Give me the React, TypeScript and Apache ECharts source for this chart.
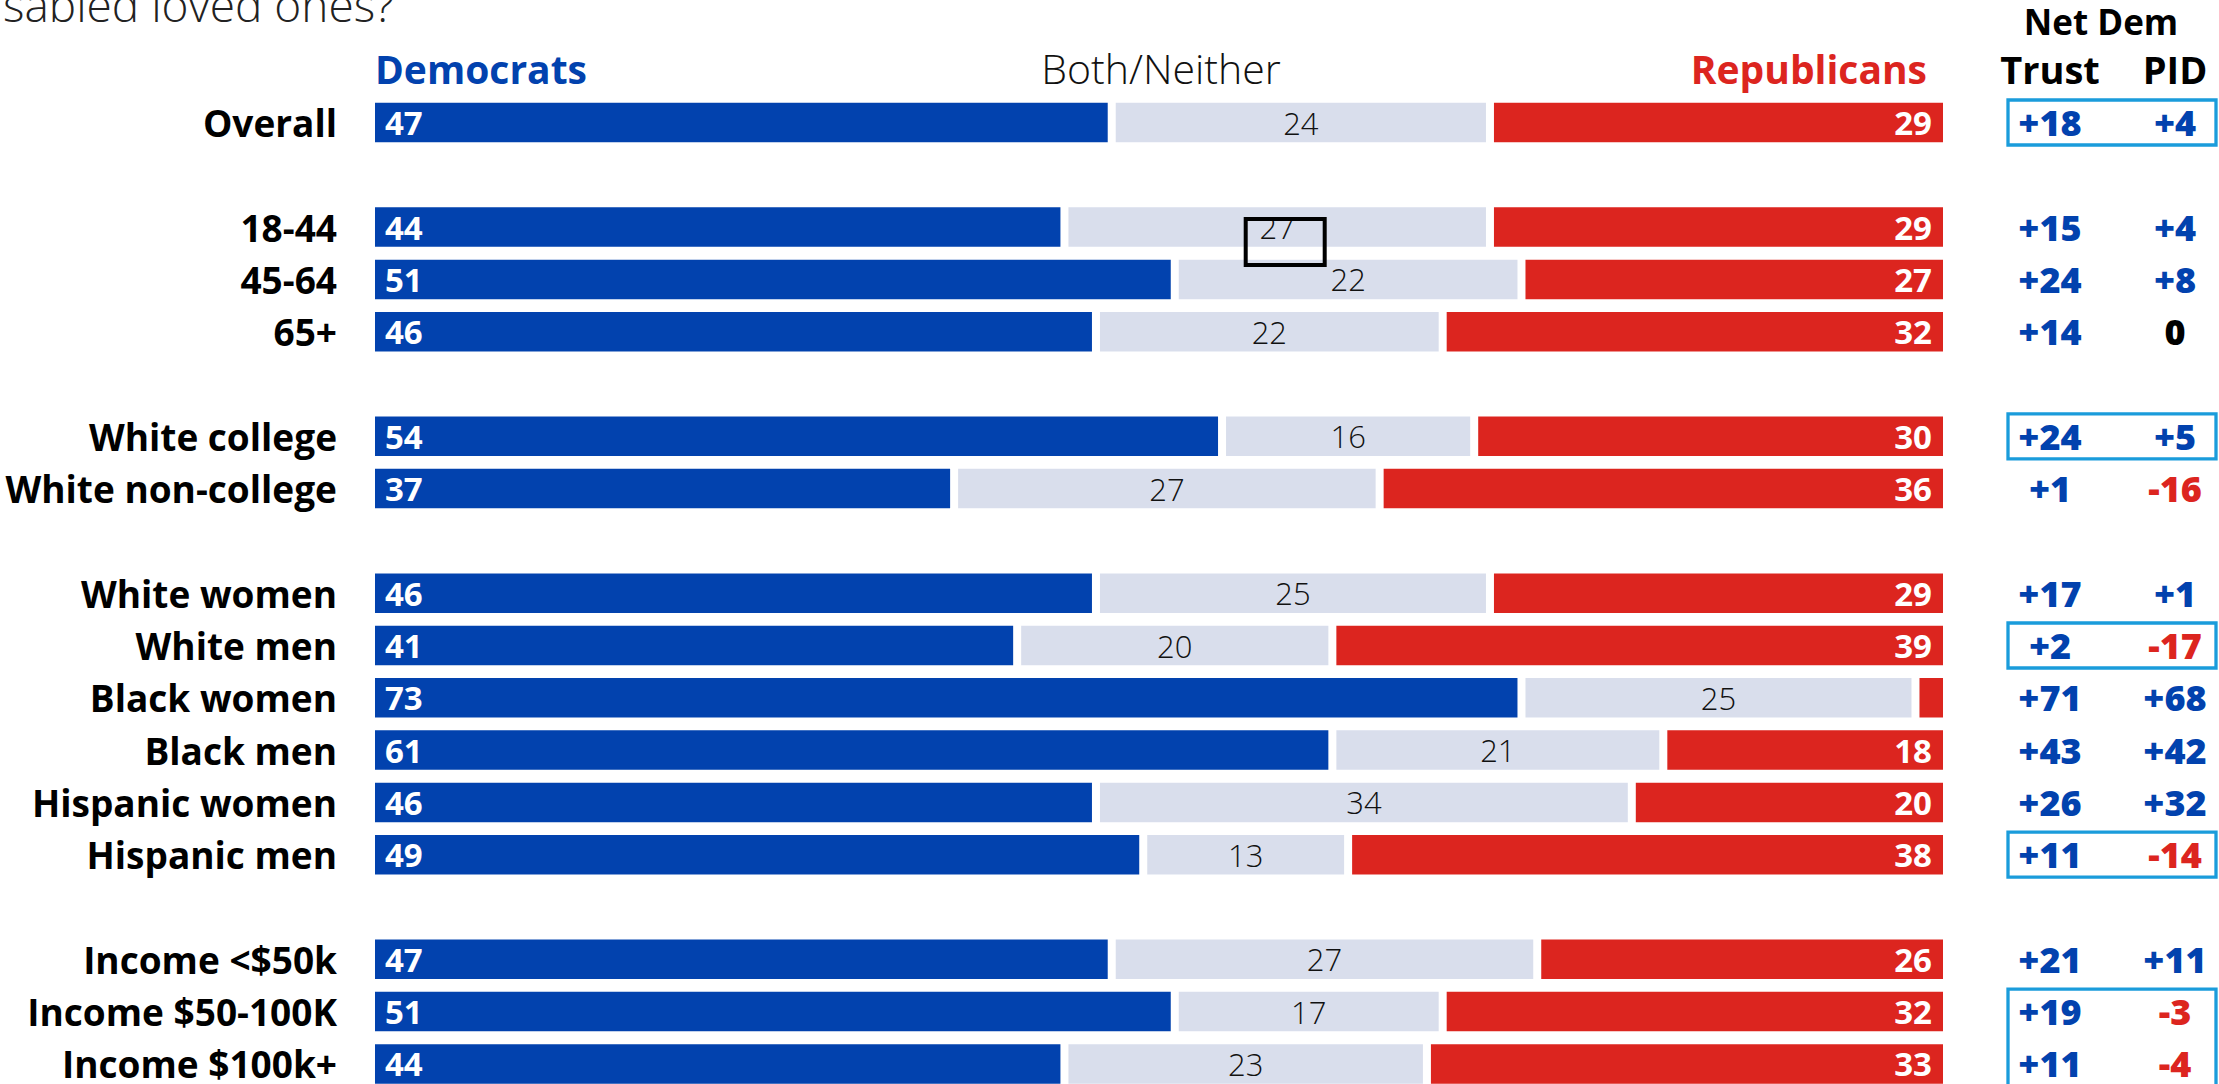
import React, { useEffect, useRef } from "react";
import * as echarts from "echarts";

const categories = [
  "Overall", " ", "18-44", "45-64", "65+", "  ", "White college", "White non-college", "   ",
  "White women", "White men", "Black women", "Black men", "Hispanic women", "Hispanic men", "    ",
  "Income <$50k", "Income $50-100K", "Income $100k+",
];
const democrats = [47, null, 44, 51, 46, null, 54, 37, null, 46, 41, 73, 61, 46, 49, null, 47, 51, 44];
const bothNeither = [24, null, 27, 22, 22, null, 16, 27, null, 25, 20, 25, 21, 34, 13, null, 27, 17, 23];
const republicans = [29, null, 29, 27, 32, null, 30, 36, null, 29, 39, 2, 18, 20, 38, null, 26, 32, 33];
const netTrust = [18, null, 15, 24, 14, null, 24, 1, null, 17, 2, 71, 43, 26, 11, null, 21, 19, 11];
const netPid = [4, null, 4, 8, 0, null, 5, -16, null, 1, -17, 68, 42, 32, -14, null, 11, -3, -4];
const netColumns = ["Trust", "PID"];
const highlightedRanges = [
  ["Overall", "Overall"],
  ["White college", "White college"],
  ["White men", "White men"],
  ["Hispanic men", "Hispanic men"],
  ["Income $50-100K", "Income $100k+"],
];
const annotatedRow = "18-44";

const DEM = "#0242AE";
const REP = "#DC251F";
const BOTH = "#D9DEEC";
const BOX = "#1A9CDB";
const FONT = "'Open Sans', sans-serif";

const fmtNet = (v: number) => (v > 0 ? "+" + v : v < 0 ? "-" + Math.abs(v) : "0");
const colNet = (v: number) => (v > 0 ? DEM : v < 0 ? REP : "#000");

function netSeries(values: (number | null)[], col: number) {
  const data: any[] = [];
  values.forEach((v, i) => {
    if (v == null) return;
    data.push([col, i, v]);
  });
  return {
    type: "custom",
    xAxisIndex: 1,
    yAxisIndex: 1,
    z: 6,
    renderItem: (params: any, api: any) => {
      const c = api.coord([api.value(0), api.value(1)]);
      const v = api.value(2) as number;
      return {
        type: "text",
        x: c[0],
        y: c[1],
        style: {
          text: fmtNet(v),
          fill: colNet(v),
          fontFamily: FONT,
          fontSize: 36,
          fontWeight: 800,
          align: "center",
          verticalAlign: "middle",
        },
      };
    },
    data,
  };
}

export default function App() {
  const ref = useRef<HTMLDivElement>(null);
  useEffect(() => {
    document.body.style.margin = "0";
    const chart = echarts.init(ref.current!, null, { renderer: "svg" });
    const rowStep = 52.3;
    const gridTop = 122.5;
    const gridHeight = rowStep * (categories.length - 1);
    const ai = categories.indexOf(annotatedRow);
    const option: any = {
      animation: false,
      backgroundColor: "#fff",
      textStyle: { fontFamily: FONT },
      grid: [
        { left: 371, top: gridTop, width: 1576, height: gridHeight },
        { left: 2050, top: gridTop, width: 125, height: gridHeight },
      ],
      xAxis: [
        { gridIndex: 0, type: "value", min: 0, max: 100, show: false },
        {
          gridIndex: 1,
          type: "category",
          data: netColumns,
          boundaryGap: false,
          position: "top",
          axisLine: { show: false },
          axisTick: { show: false },
          splitLine: { show: false },
          axisLabel: {
            interval: 0,
            fontFamily: FONT,
            fontSize: 38,
            fontWeight: "bold",
            color: "#000",
            margin: 54,
            verticalAlign: "middle",
          },
        },
      ],
      yAxis: [
        {
          gridIndex: 0,
          type: "category",
          data: categories,
          inverse: true,
          boundaryGap: false,
          axisLine: { show: false },
          axisTick: { show: false },
          splitLine: { show: false },
          axisLabel: {
            interval: 0,
            fontFamily: FONT,
            fontSize: 37,
            fontWeight: "bold",
            color: "#000",
            margin: 34,
          },
        },
        { gridIndex: 1, type: "category", data: categories, inverse: true, boundaryGap: false, show: false },
      ],
      graphic: [
        {
          type: "text",
          x: 3,
          y: 4,
          style: { text: "sabled loved ones?", fontFamily: FONT, fontSize: 46, fontWeight: 300, fill: "#222", align: "left", verticalAlign: "middle" },
        },
        {
          type: "text",
          x: 375,
          y: 68,
          style: { text: "Democrats", fontFamily: FONT, fontSize: 39, fontWeight: "bold", fill: DEM, align: "left", verticalAlign: "middle" },
        },
        {
          type: "text",
          x: 1161,
          y: 68,
          style: { text: "Both/Neither", fontFamily: FONT, fontSize: 41, fontWeight: 300, fill: "#111", align: "center", verticalAlign: "middle" },
        },
        {
          type: "text",
          x: 1927,
          y: 68,
          style: { text: "Republicans", fontFamily: FONT, fontSize: 39, fontWeight: "bold", fill: REP, align: "right", verticalAlign: "middle" },
        },
        {
          type: "text",
          x: 2101,
          y: 21,
          style: { text: "Net Dem", fontFamily: FONT, fontSize: 35, fontWeight: "bold", fill: "#000", align: "center", verticalAlign: "middle" },
        },
      ],
      series: [
        {
          name: "Democrats",
          type: "bar",
          stack: "all",
          barWidth: 47.5,
          itemStyle: { color: DEM, borderColor: "#fff", borderWidth: 4 },
          label: {
            show: true,
            position: "insideLeft",
            distance: 14,
            color: "#fff",
            fontFamily: FONT,
            fontSize: 33,
            fontWeight: "bold",
          },
          data: democrats,
        },
        {
          name: "Both/Neither",
          type: "bar",
          stack: "all",
          barWidth: 47.5,
          itemStyle: { color: BOTH, borderColor: "#fff", borderWidth: 4 },
          label: {
            show: true,
            position: "inside",
            color: "#111",
            fontFamily: FONT,
            fontSize: 31,
            fontWeight: 300,
          },
          data: bothNeither,
        },
        {
          name: "Republicans",
          type: "bar",
          stack: "all",
          barWidth: 47.5,
          itemStyle: { color: REP, borderColor: "#fff", borderWidth: 4 },
          label: {
            show: true,
            position: "insideRight",
            distance: 15,
            color: "#fff",
            fontFamily: FONT,
            fontSize: 33,
            fontWeight: "bold",
            formatter: (p: any) => (p.value >= 5 ? String(p.value) : ""),
          },
          data: republicans,
        },
        netSeries(netTrust, 0),
        netSeries(netPid, 1),
        {
          type: "custom",
          xAxisIndex: 1,
          yAxisIndex: 1,
          z: 5,
          renderItem: (params: any, api: any) => {
            const cs = params.coordSys;
            const y0 = api.coord([0, api.value(1)])[1];
            const y1 = api.coord([0, api.value(2)])[1];
            const half = 22.5;
            return {
              type: "rect",
              shape: { x: cs.x - 42, y: y0 - half, width: cs.width + 83, height: y1 - y0 + 2 * half },
              style: { fill: "none", stroke: BOX, lineWidth: 3.3 },
            };
          },
          data: highlightedRanges.map(([a, b]) => [0, categories.indexOf(a), categories.indexOf(b)]),
        },
        {
          type: "custom",
          xAxisIndex: 0,
          yAxisIndex: 0,
          z: 10,
          renderItem: (params: any, api: any) => {
            const c = api.coord([api.value(0), api.value(1)]);
            return {
              type: "rect",
              shape: { x: c[0] - 39.5 + 8, y: c[1] - 23 + 15, width: 79, height: 46 },
              style: { fill: "none", stroke: "#000", lineWidth: 4 },
            };
          },
          data: [[(democrats[ai] as number) + (bothNeither[ai] as number) / 2, ai]],
        },
      ],
    };
    chart.setOption(option);
    return () => chart.dispose();
  }, []);
  return <div ref={ref} style={{ position: "absolute", left: 0, top: 0, width: 2219, height: 1084 }} />;
}
